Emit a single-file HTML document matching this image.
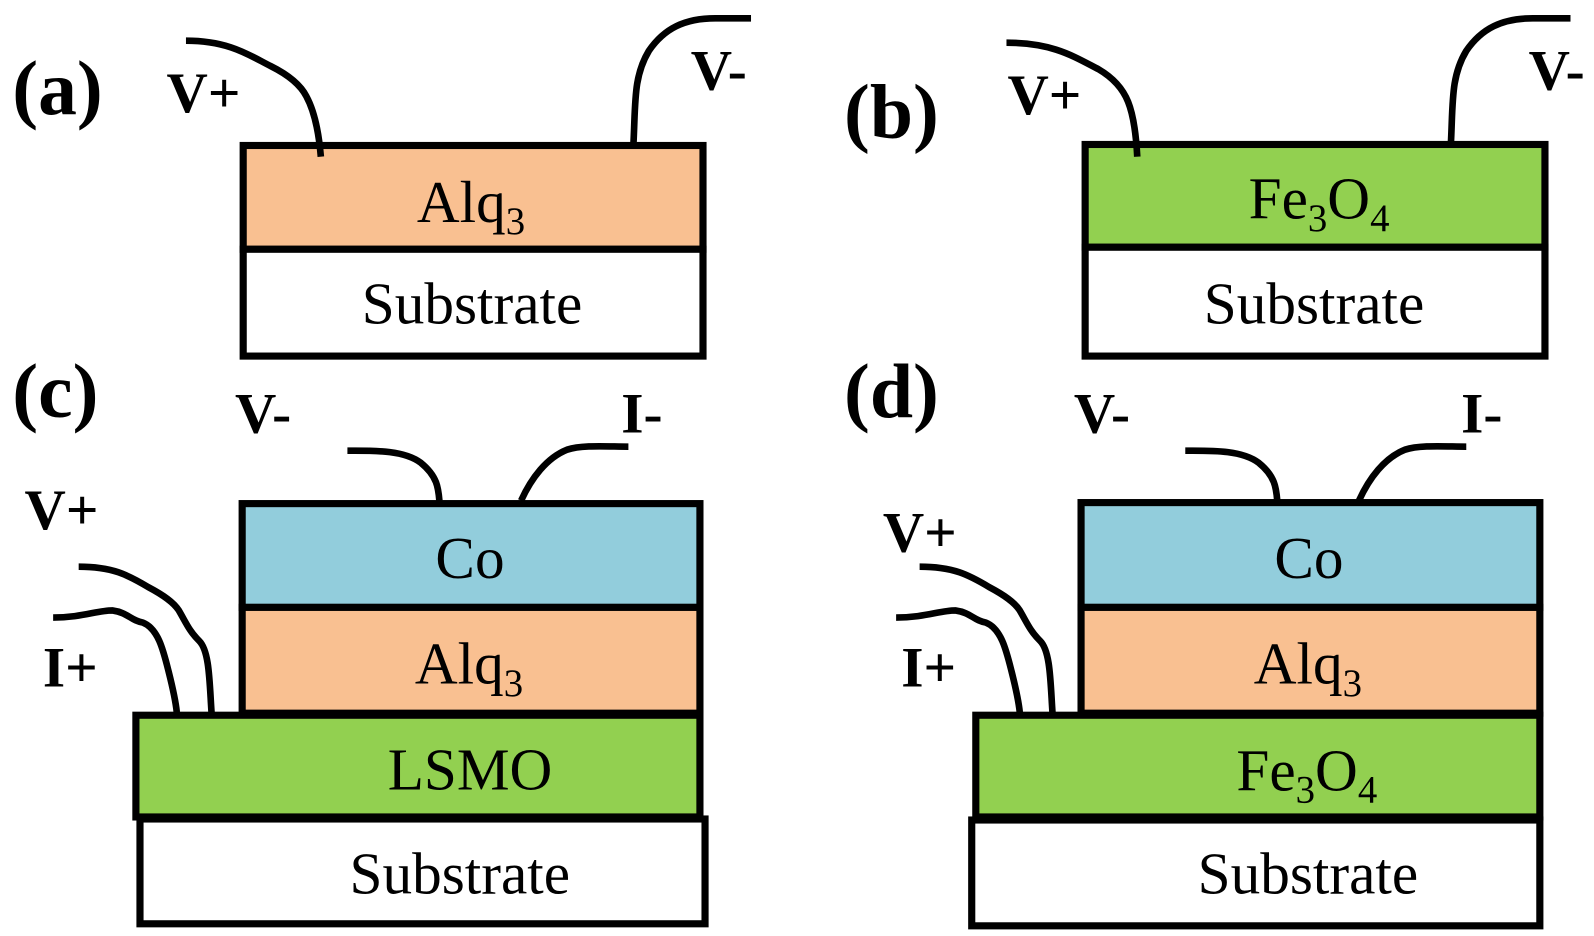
<!DOCTYPE html>
<html><head><style>
html,body{margin:0;padding:0;background:#fff;}
svg{display:block;}
text{font-family:"Liberation Serif",serif;fill:#000;}
.lb{font-weight:bold;font-size:76px;}
.tl{font-weight:bold;font-size:56px;}
.ly{font-size:58px;}
.sub{font-size:38px;}
rect{stroke:#000;stroke-width:7;}
path{fill:none;stroke:#000;stroke-width:6.5;stroke-linecap:butt;stroke-linejoin:round;}
</style></head><body>
<svg width="1594" height="936" viewBox="0 0 1560 920" preserveAspectRatio="none" xmlns="http://www.w3.org/2000/svg">
<!-- (a) -->
<text class="lb" x="12" y="112">(a)</text>
<text class="tl" x="163" y="110">V+</text>
<text class="tl" x="676" y="88">V-</text>
<rect x="238" y="143" width="450" height="102" fill="#f9c091"/>
<rect x="238" y="245" width="450" height="105" fill="#fff"/>
<text class="ly" x="408" y="218">Alq<tspan class="sub" dy="12">3</tspan></text>
<text class="ly" x="462" y="318" text-anchor="middle">Substrate</text>
<path d="M182,40 C225,40 245,55 265,65 C285,75 295,85 300,95 C308,110 312,130 314,154"/>
<path d="M620,140 C622,100 620,75 635,50 C650,28 670,18 700,18 L735,18"/>
<!-- (b) -->
<text class="lb" x="826" y="135">(b)</text>
<text class="tl" x="986" y="112">V+</text>
<text class="tl" x="1496" y="88">V-</text>
<rect x="1062" y="142" width="450" height="101" fill="#92d050"/>
<rect x="1062" y="243" width="450" height="107" fill="#fff"/>
<text class="ly" x="1222" y="215">Fe<tspan class="sub" dy="12">3</tspan><tspan dy="-12">O</tspan><tspan class="sub" dy="12">4</tspan></text>
<text class="ly" x="1286" y="318" text-anchor="middle">Substrate</text>
<path d="M985,42 C1030,42 1050,55 1075,68 C1092,78 1100,90 1104,100 C1110,115 1112,135 1113,154"/>
<path d="M1420,140 C1422,100 1420,75 1435,50 C1450,28 1470,18 1500,18 L1537,18"/>
<!-- (c) -->
<text class="lb" x="12" y="410">(c)</text>
<text class="tl" x="230" y="425">V-</text>
<text class="tl" x="608" y="425">I-</text>
<text class="tl" x="24" y="520">V+</text>
<text class="tl" x="42" y="675">I+</text>
<rect x="237" y="495" width="448" height="102" fill="#92cddc"/>
<rect x="237" y="597" width="448" height="104" fill="#f9c091"/>
<rect x="133" y="703" width="552" height="100" fill="#92d050"/>
<rect x="137" y="805" width="553" height="103" fill="#fff"/>
<text class="ly" x="460" y="568" text-anchor="middle">Co</text>
<text class="ly" x="406" y="672">Alq<tspan class="sub" dy="12">3</tspan></text>
<text class="ly" x="460" y="776" text-anchor="middle">LSMO</text>
<text class="ly" x="450" y="878" text-anchor="middle">Substrate</text>
<path d="M340,443 C365,443 395,442 412,455 C428,468 429,480 430,492"/>
<path d="M510,492 C520,470 535,450 555,442 C570,437 595,439 615,439"/>
<path d="M77,557 C110,557 125,565 145,577 C160,585 170,592 175,600 C182,612 185,620 195,630 C205,640 205,670 207,700"/>
<path d="M52,607 C80,607 95,600 110,600 C125,602 128,610 140,612 C155,618 160,640 165,660 C170,680 172,690 173,700"/>
<!-- (d) -->
<text class="lb" x="826" y="410">(d)</text>
<text class="tl" x="1051" y="425">V-</text>
<text class="tl" x="1430" y="425">I-</text>
<text class="tl" x="864" y="542">V+</text>
<text class="tl" x="882" y="675">I+</text>
<rect x="1058" y="494" width="449" height="103" fill="#92cddc"/>
<rect x="1058" y="597" width="449" height="104" fill="#f9c091"/>
<rect x="955" y="703" width="552" height="100" fill="#92d050"/>
<rect x="951" y="806" width="556" height="104" fill="#fff"/>
<text class="ly" x="1281" y="568" text-anchor="middle">Co</text>
<text class="ly" x="1227" y="672">Alq<tspan class="sub" dy="12">3</tspan></text>
<text class="ly" x="1210" y="777">Fe<tspan class="sub" dy="12">3</tspan><tspan dy="-12">O</tspan><tspan class="sub" dy="12">4</tspan></text>
<text class="ly" x="1280" y="878" text-anchor="middle">Substrate</text>
<path d="M1160,443 C1185,443 1215,442 1232,455 C1248,468 1249,480 1250,492"/>
<path d="M1330,492 C1340,470 1355,450 1375,442 C1390,437 1415,439 1435,439"/>
<path d="M900,557 C933,557 948,565 968,577 C983,585 993,592 998,600 C1005,612 1008,620 1018,630 C1028,640 1028,670 1030,700"/>
<path d="M877,607 C905,607 920,600 935,600 C950,602 953,610 965,612 C980,618 985,640 990,660 C995,680 997,690 998,700"/>
</svg>
</body></html>
